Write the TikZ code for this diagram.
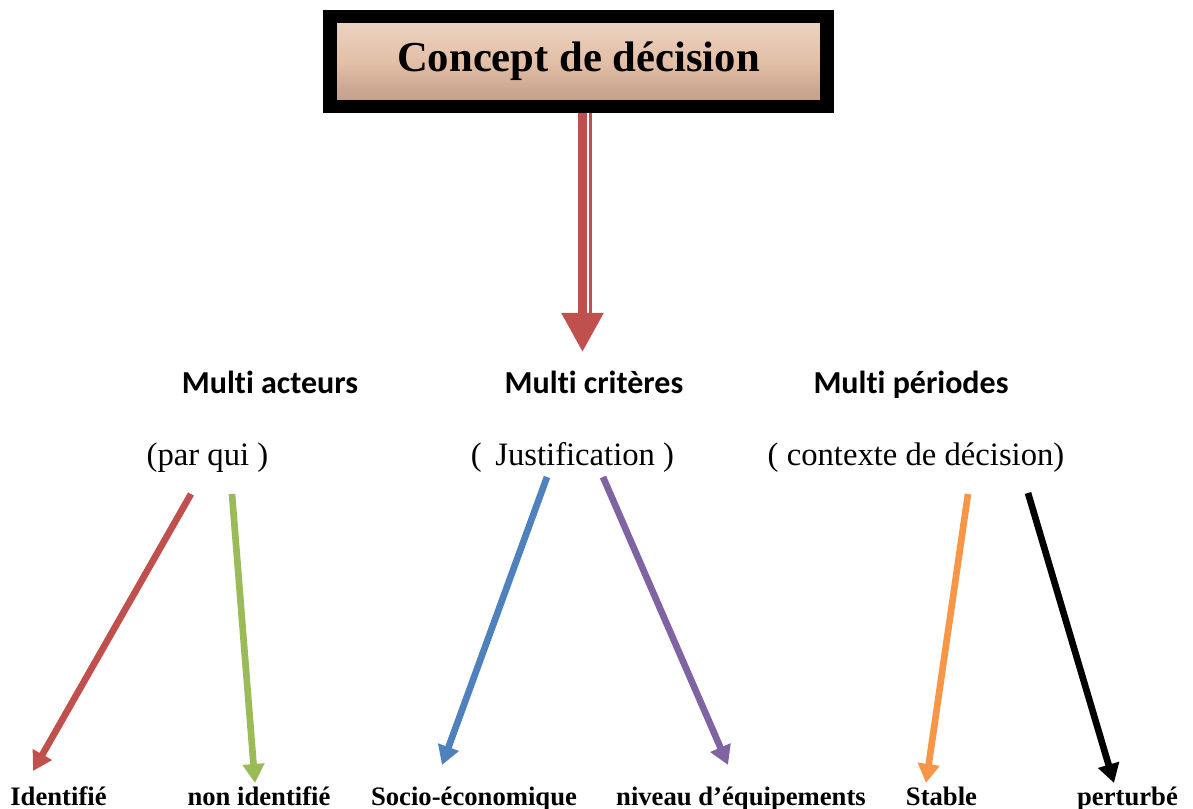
\documentclass[tikz,border=0pt]{standalone}
\usepackage{fontspec}
\setmainfont{Liberation Serif}
\newfontfamily\calibri[Ligatures=NoCommon]{Carlito}
\usepackage{xcolor}
\usepackage{tikz}
\usetikzlibrary{arrows.meta}
\usetikzlibrary{positioning}
\definecolor{redc}{HTML}{C0504D}
\definecolor{greenc}{HTML}{9BBB59}
\definecolor{bluec}{HTML}{4F81BD}
\definecolor{purplec}{HTML}{8064A2}
\definecolor{orangec}{HTML}{F79646}
\definecolor{boxtop}{HTML}{ECD6C6}
\definecolor{boxmid}{HTML}{E3BFA6}
\definecolor{boxbot}{HTML}{BE9A89}
\tikzset{
    titlebox/.style = {rectangle, draw=black, line width=10.1pt, minimum width=372.75pt, minimum height=67.5pt, top color=boxtop, bottom color=boxbot, middle color=boxmid, font=\bfseries\fontsize{32}{36}\selectfont},
    headn/.style = {anchor=base, font=\calibri\bfseries\fontsize{24}{28}\selectfont},
    subn/.style = {anchor=base, font=\fontsize{24.5}{28}\selectfont},
    leafn/.style = {anchor=base, font=\bfseries\fontsize{20}{24}\selectfont},
    branch/.style = {line width=5pt, -{Triangle[width=15.75pt,length=14.25pt]}},
}

\begin{document}
\begin{tikzpicture}[x=0.75pt, y=-0.75pt]
\useasboundingbox (0,0) rectangle (1193,809);
%
\coordinate (shaftA) at (582.5,113);
\coordinate (shaftB) at (590.3,113);
\coordinate (shaftC) at (590.3,314);
\coordinate (tipM) at (582.5,352);
\draw[redc, line width=6.3pt, -{Triangle[width=30pt,length=29.25pt]}] (shaftA) -- (tipM);
\draw[redc, line width=1.9pt] (shaftB) -- (shaftC);
%
\node[titlebox] at (578.5,61.5) (concept) {Concept de décision};
%
\node[headn] at (270,393) (acteurs) {Multi acteurs};
\node[headn] at (594,393) (criteres) {Multi critères};
\node[headn] at (911,393) (periodes) {Multi périodes};
%
\node[subn] at (207.5,465) (parqui) {(par qui )};
\node[subn] at (572.5,465) (justif) {(\, Justification )};
\node[subn] at (916,465) (contexte) {( contexte de décision)};
%
\node[leafn] at (58.5,805) (ident) {Identifié};
\node[leafn] at (259,805) (nonident) {non identifié};
\node[leafn] at (474,805) (socio) {Socio-économique};
\node[leafn] at (741,805) (niveau) {niveau d’équipements};
\node[leafn] at (941.5,805) (stable) {Stable};
\node[leafn] at (1127.5,805) (perturbe) {perturbé};
%
\coordinate (s1) at (191,494);
\coordinate (t1) at (33,771);
\coordinate (s2) at (232,494);
\coordinate (t2) at (255,783);
\coordinate (s3) at (547,477);
\coordinate (t3) at (442,765);
\coordinate (s4) at (603,477);
\coordinate (t4) at (728,765);
\coordinate (s5) at (968,494);
\coordinate (t5) at (926,783);
\coordinate (s6) at (1028,493);
\coordinate (t6) at (1114,783);
\draw[branch, redc] (s1) -- (t1);
\draw[branch, greenc] (s2) -- (t2);
\draw[branch, bluec] (s3) -- (t3);
\draw[branch, purplec] (s4) -- (t4);
\draw[branch, orangec] (s5) -- (t5);
\draw[branch, black] (s6) -- (t6);
\end{tikzpicture}
\end{document}
